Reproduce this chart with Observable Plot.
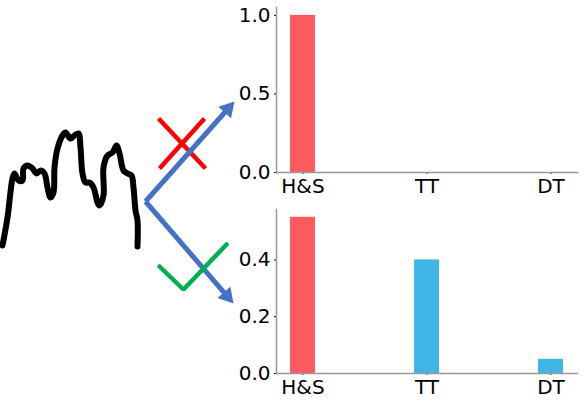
<!DOCTYPE html>
<html>
<head>
<meta charset="utf-8">
<script src="https://cdn.jsdelivr.net/npm/d3@7"></script>
<script src="https://cdn.jsdelivr.net/npm/@observablehq/plot@0.6"></script>
<style>
  body { margin: 0; background: white; }
  #wrap { position: relative; width: 584px; height: 403px; overflow: hidden; background: white; }
</style>
</head>
<body>
<div id="wrap"></div>
<script>
// ---- data ----
const categories = ["H&S", "TT", "DT"];
const topValues = [1.0, 0.0, 0.0];
const bottomValues = [0.55, 0.40, 0.05];
const barColors = ["#FF5A5F", "#41B6E6", "#41B6E6"];
const topTicks = [0, 0.5, 1.0];
const bottomTicks = [0, 0.2, 0.4];

// illustration (schematic price squiggle, in page pixel units)
const squiggleX = [2, 7, 12, 14, 18, 22, 23, 27, 32, 36, 40, 44, 47, 50, 53, 54, 57, 62, 65, 70, 74, 78, 80, 82, 85, 89, 93, 97, 99, 103, 103, 107, 112, 116, 119, 123, 127, 131, 133, 135, 137, 137];
const squiggleY = [245, 217, 178, 173, 180, 180, 168, 165, 168, 173, 170, 173, 187, 197, 192, 167, 148, 135, 132, 138, 135, 133, 147, 173, 182, 182, 187, 202, 205, 195, 167, 155, 152, 145, 153, 170, 173, 175, 187, 210, 220, 246];
const arrowStart = [145, 201];
const arrowTips = [[234, 101], [233, 303]];
const crossSegs = [[[158, 118], [205, 168]], [[204, 118], [159, 168]]];
const checkX = [159, 183, 226];
const checkY = [266, 289, 244];

const wrap = document.getElementById("wrap");

// ---- illustration layer ----
const squiggle = squiggleX.map((x, i) => ({x, y: squiggleY[i]}));
const headSide = 17;
const headLen = headSide * Math.sqrt(3) / 2;
const arrows = arrowTips.map(([tx, ty]) => {
  const dx = tx - arrowStart[0], dy = ty - arrowStart[1];
  const L = Math.hypot(dx, dy), ux = dx / L, uy = dy / L;
  return {
    x1: arrowStart[0], y1: arrowStart[1],
    x2: tx - ux * (headLen - 2), y2: ty - uy * (headLen - 2),
    cx: tx - ux * headLen * 2 / 3, cy: ty - uy * headLen * 2 / 3,
    rot: Math.atan2(dx, -dy) * 180 / Math.PI
  };
});
const headR = Math.sqrt(headSide * headSide * Math.sqrt(3) / 4 / Math.PI);
const cross = crossSegs.map(s => ({x1: s[0][0], y1: s[0][1], x2: s[1][0], y2: s[1][1]}));
const check = checkX.map((x, i) => ({x, y: checkY[i]}));

const illus = Plot.plot({
  width: 584, height: 403,
  margin: 0,
  x: {domain: [0, 584], range: [0, 584], axis: null},
  y: {domain: [0, 403], range: [0, 403], axis: null},
  style: {background: "transparent"},
  marks: [
    Plot.line(squiggle, {x: "x", y: "y", stroke: "black", strokeWidth: 6, curve: "catmull-rom", strokeLinejoin: "round", strokeLinecap: "round"}),
    Plot.link(cross, {x1: "x1", y1: "y1", x2: "x2", y2: "y2", stroke: "#FF0000", strokeWidth: 4.5}),
    Plot.link(arrows, {x1: "x1", y1: "y1", x2: "x2", y2: "y2", stroke: "#4472C4", strokeWidth: 5, strokeLinecap: "butt"}),
    Plot.dot(arrows, {x: "cx", y: "cy", symbol: "triangle", r: headR, rotate: "rot", fill: "#4472C4", stroke: "none"}),
    Plot.line(check, {x: "x", y: "y", stroke: "#00B050", strokeWidth: 4.5, strokeLinejoin: "miter"})
  ]
});
illus.style.position = "absolute";
illus.style.left = "0px";
illus.style.top = "0px";
wrap.appendChild(illus);

// ---- bar charts ----
function barChart(values, yMax, ticks, height, marginTop, marginBottom) {
  const data = categories.map((c, i) => ({cat: c, value: values[i], color: barColors[i]}));
  return Plot.plot({
    width: 364, height,
    marginLeft: 56, marginRight: 7, marginTop, marginBottom,
    style: {background: "transparent", fontSize: "20px", fontFamily: "DejaVu Sans", color: "black"},
    x: {domain: categories, paddingInner: 0.8, paddingOuter: 0.11, label: null, tickSize: 2, tickPadding: 4},
    y: {domain: [0, yMax], ticks, tickFormat: ".1f", label: null, tickSize: 2, tickPadding: 4},
    marks: [
      Plot.barY(data, {x: "cat", y: "value", fill: "color"}),
      Plot.frame({anchor: "left", stroke: "#999", strokeWidth: 1.5}),
      Plot.frame({anchor: "bottom", stroke: "#999", strokeWidth: 1.5})
    ]
  });
}

const top1 = barChart(topValues, 1.05, topTicks, 200, 7, 28);
top1.style.position = "absolute"; top1.style.left = "220px"; top1.style.top = "0px";
wrap.appendChild(top1);

const bot1 = barChart(bottomValues, 0.5775, bottomTicks, 203, 9, 30);
bot1.style.position = "absolute"; bot1.style.left = "220px"; bot1.style.top = "200px";
wrap.appendChild(bot1);
</script>
</body>
</html>
